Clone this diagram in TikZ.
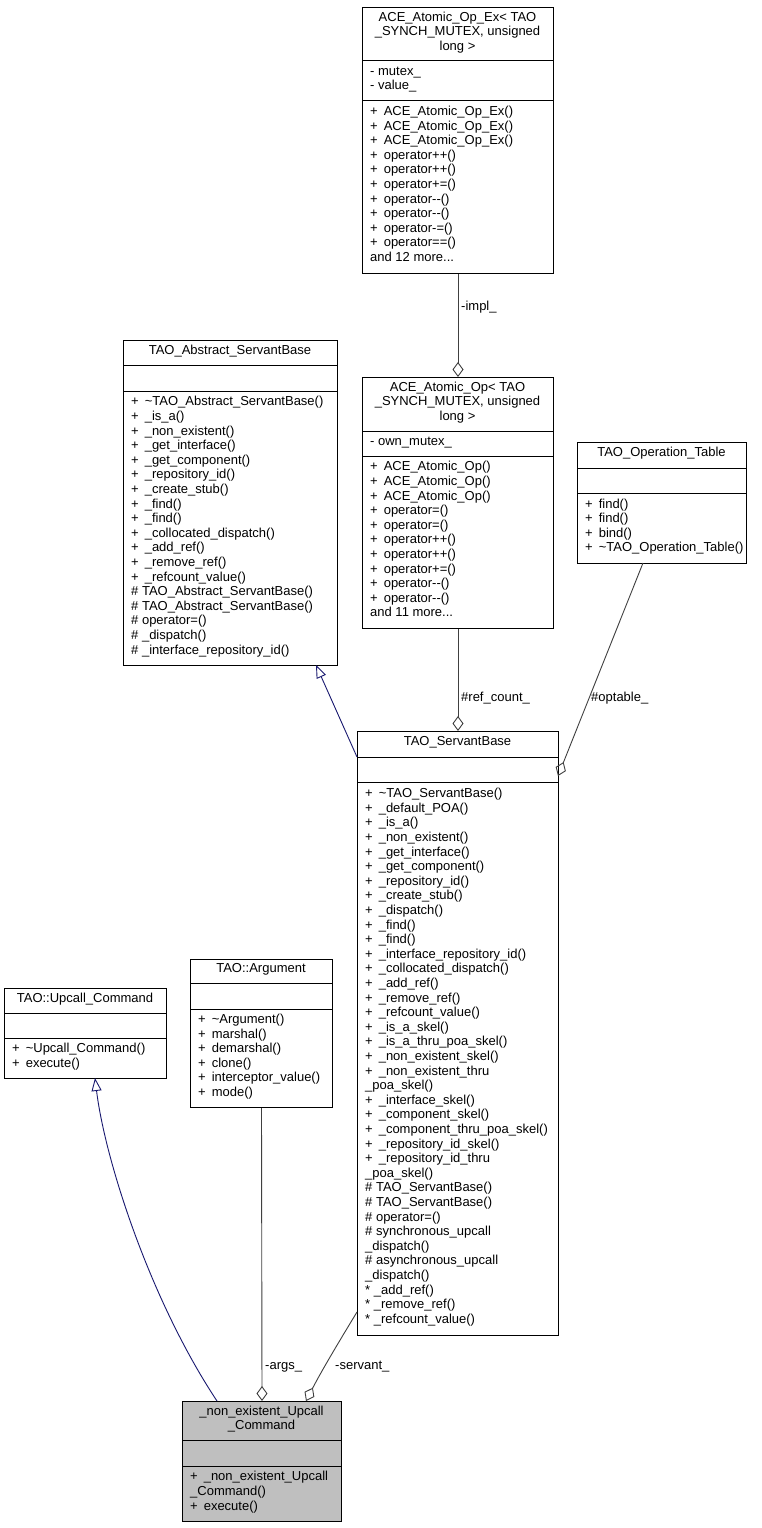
\documentclass[tikz,border=0pt]{standalone}
\usepackage{fontspec}
\setmainfont{Liberation Sans}
\usetikzlibrary{arrows.meta,calc}
\definecolor{assoc}{HTML}{404040}
\definecolor{inherit}{HTML}{191970}
\definecolor{hilite}{HTML}{BFBFBF}
\newcommand{\pl}{+\hspace{6pt}}
\tikzset{
  umlfont/.style={font=\fontsize{13}{14.6}\selectfont},
  classbox/.style={draw=black, line width=1pt, fill=white, inner sep=0pt},
  boxline/.style={draw=black, line width=1pt},
  titletext/.style={umlfont, align=center, inner sep=0pt, anchor=center},
  membertext/.style={umlfont, align=left, inner sep=0pt, anchor=west},
  linklabel/.style={umlfont, inner sep=0pt, anchor=west},
  assocline/.style={draw=assoc, line width=0.9pt, -{Diamond[open, length=15pt, width=11pt, line width=0.9pt]}},
  inheritline/.style={draw=inherit, line width=0.9pt, -{Triangle[open, length=13pt, width=10pt, line width=0.9pt]}},
}
% #1 name, #2 extra style, #3 left, #4 top, #5 right, #6 sep1, #7 sep2, #8 bottom
\newcommand{\umlframe}[8]{%
  \node[classbox,#2,anchor=north west,minimum width={#5-#3},minimum height={#8-#4}] (#1) at (#3,#4) {};
  \draw[boxline] (#3,#6) -- (#5,#6);
  \draw[boxline] (#3,#7) -- (#5,#7);
}
% #1 name, #2 left, #3 right, #4 top, #5 bottom, #6 text
\newcommand{\umltitle}[6]{\node[titletext] (#1) at ({(#2+#3)/2},{(#4+#5)/2-1}) {\strut #6\strut};}
\newcommand{\umlmembers}[6]{\node[membertext] (#1) at ({#2+8},{(#4+#5)/2-1}) {\strut #6\strut};}
\begin{document}
\begin{tikzpicture}[x=1pt,y=-1pt]
\fill[white] (0,0) rectangle (761,1528);
\useasboundingbox (0,0) rectangle (761,1528);

% ACE_Atomic_Op_Ex
\umlframe{opex}{}{362}{7}{553}{61}{100}{273}
\umltitle{opexT}{362}{553}{7}{61}{ACE\_Atomic\_Op\_Ex< TAO\\\_SYNCH\_MUTEX, unsigned\\long >}
\umlmembers{opexA}{362}{553}{61}{100}{- mutex\_\\- value\_}
\umlmembers{opexM}{362}{553}{100}{273}{\pl{}ACE\_Atomic\_Op\_Ex()\\\pl{}ACE\_Atomic\_Op\_Ex()\\\pl{}ACE\_Atomic\_Op\_Ex()\\\pl{}operator++()\\\pl{}operator++()\\\pl{}operator+=()\\\pl{}operator-{}-()\\\pl{}operator-{}-()\\\pl{}operator-=()\\\pl{}operator==()\\and 12 more...}

% ACE_Atomic_Op
\umlframe{op}{}{362}{377}{553}{431}{456}{628}
\umltitle{opT}{362}{553}{377}{431}{ACE\_Atomic\_Op< TAO\\\_SYNCH\_MUTEX, unsigned\\long >}
\umlmembers{opA}{362}{553}{431}{456}{- own\_mutex\_}
\umlmembers{opM}{362}{553}{456}{628}{\pl{}ACE\_Atomic\_Op()\\\pl{}ACE\_Atomic\_Op()\\\pl{}ACE\_Atomic\_Op()\\\pl{}operator=()\\\pl{}operator=()\\\pl{}operator++()\\\pl{}operator++()\\\pl{}operator+=()\\\pl{}operator-{}-()\\\pl{}operator-{}-()\\and 11 more...}

% TAO_Abstract_ServantBase
\umlframe{abs}{}{123}{340}{337}{365}{391}{665}
\umltitle{absT}{123}{337}{340}{365}{TAO\_Abstract\_ServantBase}
\umlmembers{absM}{123}{337}{391}{665}{\pl{}\textasciitilde TAO\_Abstract\_ServantBase()\\\pl{}\_is\_a()\\\pl{}\_non\_existent()\\\pl{}\_get\_interface()\\\pl{}\_get\_component()\\\pl{}\_repository\_id()\\\pl{}\_create\_stub()\\\pl{}\_find()\\\pl{}\_find()\\\pl{}\_collocated\_dispatch()\\\pl{}\_add\_ref()\\\pl{}\_remove\_ref()\\\pl{}\_refcount\_value()\\\# TAO\_Abstract\_ServantBase()\\\# TAO\_Abstract\_ServantBase()\\\# operator=()\\\# \_dispatch()\\\# \_interface\_repository\_id()}

% TAO_Operation_Table
\umlframe{optab}{}{577}{442}{746}{468}{493}{563}
\umltitle{optabT}{577}{746}{442}{468}{TAO\_Operation\_Table}
\umlmembers{optabM}{577}{746}{493}{563}{\pl{}find()\\\pl{}find()\\\pl{}bind()\\\pl{}\textasciitilde TAO\_Operation\_Table()}

% TAO_ServantBase
\umlframe{sb}{}{357}{731}{558}{757}{782}{1335}
\umltitle{sbT}{357}{558}{731}{757}{TAO\_ServantBase}
\umlmembers{sbM}{357}{558}{782}{1335}{\pl{}\textasciitilde TAO\_ServantBase()\\\pl{}\_default\_POA()\\\pl{}\_is\_a()\\\pl{}\_non\_existent()\\\pl{}\_get\_interface()\\\pl{}\_get\_component()\\\pl{}\_repository\_id()\\\pl{}\_create\_stub()\\\pl{}\_dispatch()\\\pl{}\_find()\\\pl{}\_find()\\\pl{}\_interface\_repository\_id()\\\pl{}\_collocated\_dispatch()\\\pl{}\_add\_ref()\\\pl{}\_remove\_ref()\\\pl{}\_refcount\_value()\\\pl{}\_is\_a\_skel()\\\pl{}\_is\_a\_thru\_poa\_skel()\\\pl{}\_non\_existent\_skel()\\\pl{}\_non\_existent\_thru\\\_poa\_skel()\\\pl{}\_interface\_skel()\\\pl{}\_component\_skel()\\\pl{}\_component\_thru\_poa\_skel()\\\pl{}\_repository\_id\_skel()\\\pl{}\_repository\_id\_thru\\\_poa\_skel()\\\# TAO\_ServantBase()\\\# TAO\_ServantBase()\\\# operator=()\\\# synchronous\_upcall\\\_dispatch()\\\# asynchronous\_upcall\\\_dispatch()\\* \_add\_ref()\\* \_remove\_ref()\\* \_refcount\_value()}

% TAO::Upcall_Command
\umlframe{upcall}{}{4}{988}{166}{1013}{1038}{1078}
\umltitle{upcallT}{4}{166}{988}{1013}{TAO::Upcall\_Command}
\umlmembers{upcallM}{4}{166}{1038}{1078}{\pl{}\textasciitilde Upcall\_Command()\\\pl{}execute()}

% TAO::Argument
\umlframe{arg}{}{190}{959}{332}{983}{1009}{1107}
\umltitle{argT}{190}{332}{959}{983}{TAO::Argument}
\umlmembers{argM}{190}{332}{1009}{1107}{\pl{}\textasciitilde Argument()\\\pl{}marshal()\\\pl{}demarshal()\\\pl{}clone()\\\pl{}interceptor\_value()\\\pl{}mode()}

% _non_existent_Upcall_Command
\umlframe{ne}{fill=hilite}{182}{1401}{341}{1440}{1466}{1521}
\umltitle{neT}{182}{341}{1401}{1440}{\_non\_existent\_Upcall\\\_Command}
\umlmembers{neM}{182}{341}{1466}{1521}{\pl{}\_non\_existent\_Upcall\\\_Command()\\\pl{}execute()}

% connector end points
\coordinate (optabOut) at (643,563);
\coordinate (sbRight) at (558,776);
\coordinate (sbLeftTop) at ($(sb.north west)+(0,26)$);
\coordinate (absIn) at (316,665);
\coordinate (neLeftTop) at (217,1401);
\coordinate (upcallIn) at (95,1078);
\coordinate (sbLeftLow) at (357,1312);
\coordinate (neRightTop) at (306,1401);

% associations
\draw[assocline] (opex.south) -- (op.north);
\draw[assocline] (op.south) -- (sb.north);
\draw[assocline] (optabOut) -- (sbRight);
\draw[assocline] (arg.south) -- (ne.north);
\draw[assocline] (sbLeftLow) .. controls (340,1340) and (322,1370) .. (neRightTop);

% inheritance
\draw[inheritline] (sbLeftTop) -- (absIn);
\draw[inheritline] (neLeftTop) .. controls (150,1300) and (105,1160) .. (upcallIn);

% labels
\node[linklabel] (lImpl) at (461,307) {-impl\_};
\node[linklabel] (lRef) at (461,698) {\#ref\_count\_};
\node[linklabel] (lOpt) at (591,698) {\#optable\_};
\node[linklabel] (lArgs) at (265,1367) {-args\_};
\node[linklabel] (lServ) at (335,1367) {-servant\_};
\end{tikzpicture}
\end{document}
